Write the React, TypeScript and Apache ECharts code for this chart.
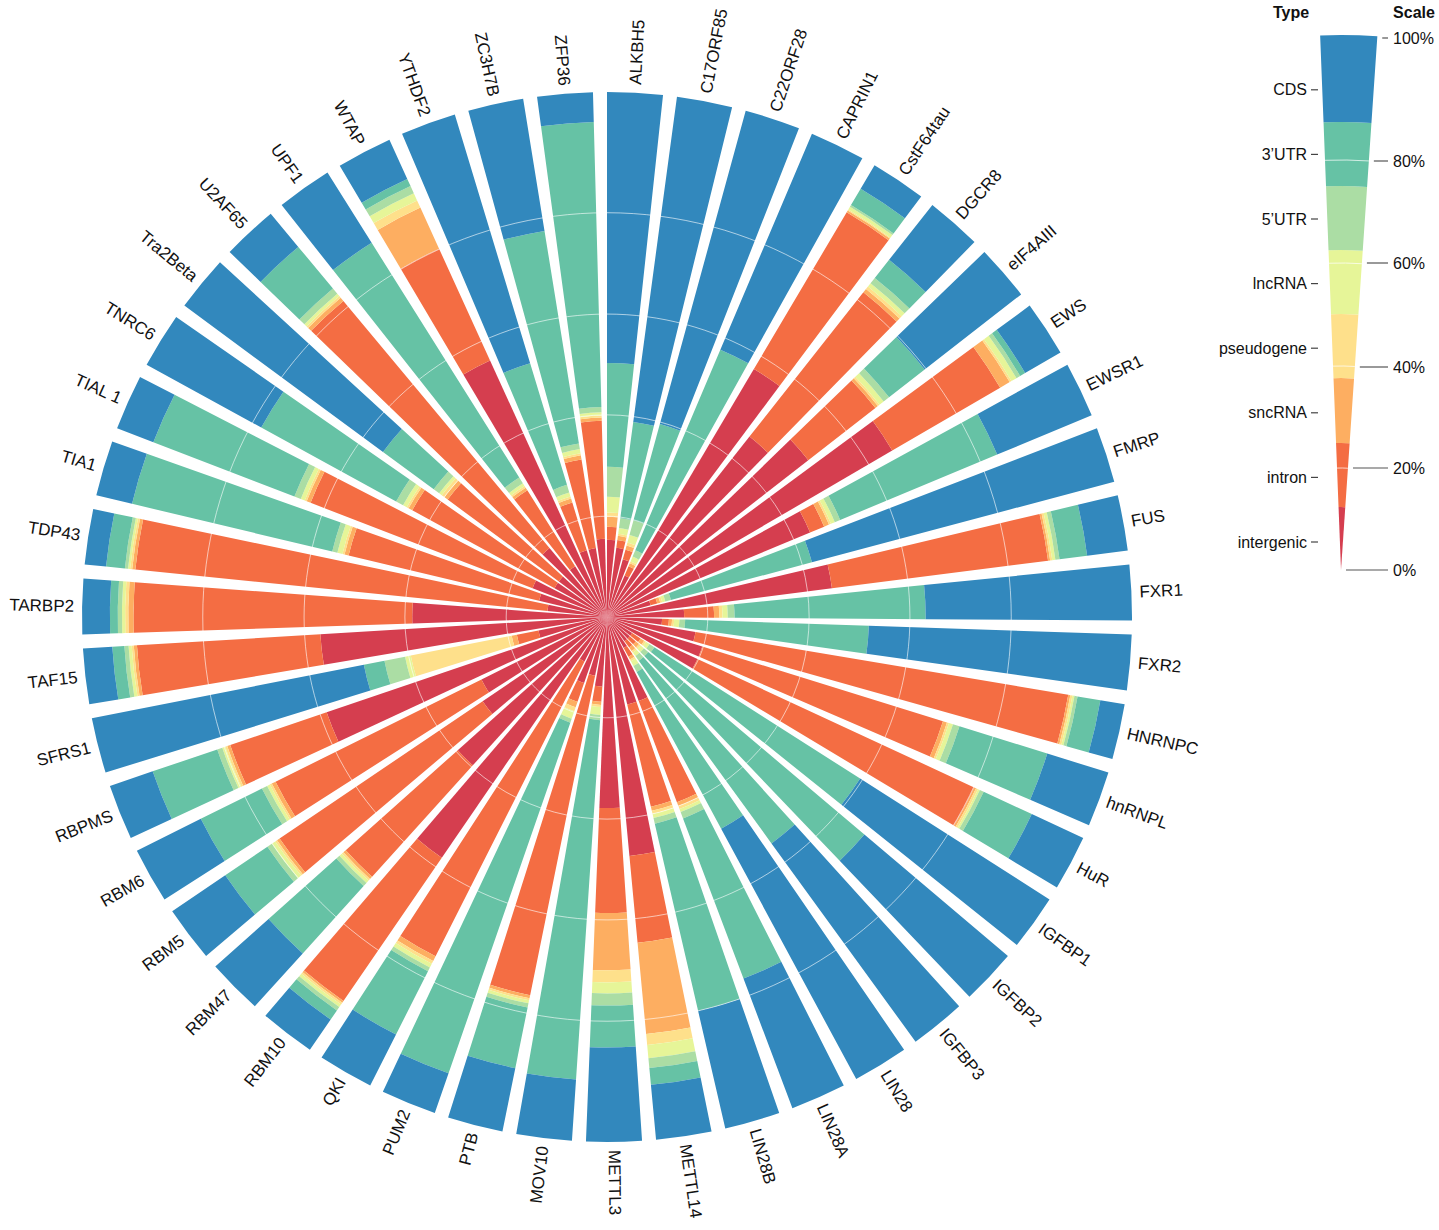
import React, { useEffect, useRef } from 'react';
import * as echarts from 'echarts';

const categories = [
  'ALKBH5', 'C17ORF85', 'C22ORF28', 'CAPRIN1', 'CstF64tau', 'DGCR8', 'eIF4AIII', 'EWS', 'EWSR1', 'FMRP',
  'FUS', 'FXR1', 'FXR2', 'HNRNPC', 'hnRNPL', 'HuR', 'IGFBP1', 'IGFBP2', 'IGFBP3', 'LIN28',
  'LIN28A', 'LIN28B', 'METTL14', 'METTL3', 'MOV10', 'PTB', 'PUM2', 'QKI', 'RBM10', 'RBM47',
  'RBM5', 'RBM6', 'RBPMS', 'SFRS1', 'TAF15', 'TARBP2', 'TDP43', 'TIA1', 'TIAL 1', 'TNRC6',
  'Tra2Beta', 'U2AF65', 'UPF1', 'WTAP', 'YTHDF2', 'ZC3H7B', 'ZFP36',
];

const typeNames = ['intergenic', 'intron', 'sncRNA', 'pseudogene', 'lncRNA', '5\u2019UTR', '3\u2019UTR', 'CDS'];
const typeColors = ['#d53e4f', '#f46d43', '#fdae61', '#fee08b', '#e6f598', '#abdda4', '#66c2a5', '#3288bd'];

// percentages per category (same order as categories)
const intergenic = [14.7, 13.3, 11.4, 8.6, 54.9, 43.8, 48.6, 62.9, 41.9, 8.6, 43.2, 14.7, 10.5, 17.1, 19.0, 19.0, 5.7, 5.7, 5.7, 6.7, 17.1, 17.1, 45.7, 36.4, 13.3, 11.4, 13.3, 9.5, 55.6, 38.1, 28.6, 26.7, 56.4, 13.3, 54.7, 37.1, 11.4, 13.3, 15.2, 11.4, 11.4, 17.1, 11.4, 53.7, 13.3, 13.3, 14.9];
const intron = [2.5, 1.5, 1.9, 1.9, 34.7, 35.0, 16.2, 23.8, 2.9, 1.3, 41.5, 5.7, 1.3, 72.0, 48.0, 58.1, 1.9, 1.5, 1.5, 1.9, 20.6, 20.0, 16.6, 20.0, 2.9, 62.1, 3.8, 62.9, 33.1, 28.6, 46.7, 43.8, 19.4, 4.2, 35.0, 53.1, 78.9, 37.3, 45.3, 30.9, 26.3, 61.3, 17.1, 23.4, 9.5, 17.1, 22.5];
const sncRNA = [1.9, 0.8, 0.8, 0.6, 0.4, 0.8, 0.6, 2.1, 1.0, 0.6, 0.4, 1.0, 0.6, 0.4, 0.8, 0.4, 0.8, 0.8, 0.8, 0.6, 0.8, 0.8, 17.5, 10.9, 0.6, 0.6, 1.1, 1.0, 0.4, 0.6, 0.6, 0.8, 0.6, 1.0, 0.6, 1.0, 0.6, 0.8, 0.8, 0.8, 0.8, 0.8, 0.6, 8.6, 0.8, 0.8, 0.6];
const pseudogene = [0.8, 0.4, 0.6, 0.4, 0.2, 0.6, 0.4, 0.4, 0.4, 0.4, 0.4, 0.6, 0.4, 0.4, 0.4, 0.4, 0.4, 0.4, 0.4, 0.4, 0.6, 0.6, 2.1, 2.3, 0.4, 0.4, 0.8, 0.6, 0.4, 0.4, 0.4, 0.4, 0.4, 19.6, 0.4, 0.6, 0.4, 0.4, 0.4, 0.4, 0.6, 0.4, 0.4, 1.5, 0.4, 0.4, 0.4];
const lncRNA = [3.0, 1.1, 1.5, 1.0, 0.6, 0.8, 1.0, 1.1, 0.8, 0.6, 0.6, 1.0, 1.0, 0.4, 0.8, 0.4, 0.8, 0.8, 0.8, 1.0, 0.6, 0.8, 2.5, 2.1, 1.5, 0.6, 1.5, 0.8, 0.6, 0.6, 0.8, 0.6, 0.6, 1.1, 0.6, 0.6, 0.4, 1.0, 0.8, 0.8, 0.6, 0.6, 0.6, 1.5, 0.8, 0.8, 0.6];
const utr5 = [5.7, 1.9, 2.9, 1.3, 0.4, 1.3, 1.3, 0.8, 1.1, 1.1, 0.8, 1.3, 1.1, 0.6, 1.3, 0.8, 1.1, 1.1, 1.1, 1.3, 1.3, 1.1, 1.9, 2.3, 1.0, 0.8, 0.8, 0.8, 0.8, 0.8, 1.0, 1.1, 1.0, 4.0, 0.8, 0.8, 0.6, 1.0, 1.3, 1.5, 1.3, 1.3, 1.3, 1.5, 1.5, 1.1, 1.0];
const utr3 = [19.8, 18.5, 19.0, 41.5, 3.6, 4.4, 8.6, 1.1, 32.4, 27.8, 5.3, 36.4, 35.0, 4.4, 17.5, 10.1, 46.5, 53.9, 43.0, 33.9, 32.6, 36.6, 3.2, 8.0, 68.6, 11.8, 70.7, 13.5, 2.1, 17.3, 9.7, 13.0, 13.0, 4.0, 2.3, 1.5, 3.6, 39.2, 28.8, 29.3, 12.0, 10.3, 52.8, 1.5, 24.2, 41.0, 54.3];
const cds = [51.6, 62.5, 61.9, 44.8, 5.3, 13.3, 23.4, 7.8, 19.6, 59.6, 7.8, 39.4, 50.1, 4.8, 12.2, 10.9, 42.9, 35.8, 46.7, 54.3, 26.5, 23.0, 10.5, 18.1, 11.8, 12.4, 8.0, 11.0, 7.0, 13.7, 12.4, 13.7, 8.8, 52.8, 5.7, 5.3, 4.2, 7.0, 7.4, 25.0, 47.0, 8.2, 15.8, 8.2, 49.5, 25.5, 5.9];

// radial grid rings (value units of the radius axis)
const gridValues = [19.2, 38.5, 57.7, 77.0];
const scaleLabels = ['0%', '20%', '40%', '60%', '80%', '100%'];

const FONT = '"Liberation Sans", Arial, Helvetica, sans-serif';

export default function App() {
  const ref = useRef<HTMLDivElement>(null);

  useEffect(() => {
    document.body.style.margin = '0';
    const chart = echarts.init(ref.current as HTMLDivElement, null, { renderer: 'svg' });
    const seriesData = [intergenic, intron, sncRNA, pseudogene, lncRNA, utr5, utr3, cds];
    const n = categories.length;
    const band = 360 / n;

    const barSeries: any[] = typeNames.map((name, k) => ({
      name,
      type: 'bar',
      coordinateSystem: 'polar',
      stack: 'total',
      data: seriesData[k],
      barCategoryGap: '20%',
      itemStyle: { color: typeColors[k] },
      silent: true,
      z: 2,
    }));

    const gridSeries = {
      type: 'custom',
      coordinateSystem: 'polar',
      silent: true,
      z: 5,
      encode: { radius: 0, angle: 1 },
      data: gridValues.map((v) => [v, 0]),
      renderItem: (params: any, api: any) => {
        const cs = params.coordSys;
        const p = api.coord([api.value(0), 0]);
        const r = Math.hypot(p[0] - cs.cx, p[1] - cs.cy);
        return {
          type: 'circle',
          shape: { cx: cs.cx, cy: cs.cy, r },
          style: { fill: 'none', stroke: 'rgba(255,255,255,0.6)', lineWidth: 1 },
        };
      },
    };

    const labelSeries = {
      type: 'custom',
      coordinateSystem: 'polar',
      silent: true,
      z: 6,
      encode: { radius: 0, angle: 1 },
      data: categories.map((_, i) => [100, i]),
      renderItem: (params: any, api: any) => {
        const cs = params.coordSys;
        const idx = api.value(1);
        const p = api.coord([api.value(0), idx]);
        const dx = p[0] - cs.cx;
        const dy = p[1] - cs.cy;
        const rr = Math.hypot(dx, dy);
        let phi = Math.atan2(dx, -dy);
        if (phi < 0) phi += Math.PI * 2;
        const right = phi < Math.PI - 1e-6;
        const off = 8;
        const x = cs.cx + (dx / rr) * (rr + off);
        const y = cs.cy + (dy / rr) * (rr + off);
        const rotation = right ? Math.PI / 2 - phi : (3 * Math.PI) / 2 - phi;
        return {
          type: 'text',
          x,
          y,
          rotation,
          style: {
            text: categories[idx],
            font: `17px ${FONT}`,
            fill: '#111',
            align: right ? 'left' : 'right',
            verticalAlign: 'middle',
            textAlign: right ? 'left' : 'right',
            textVerticalAlign: 'middle',
          },
        };
      },
    };

    // ---- legend (Type / Scale wedge) ----
    const LCX = 1341;
    const LCY = 570;
    const A0 = -Math.PI / 2 - 0.039;
    const A1 = A0 + 0.107;
    const bandRadii = [0, 63, 127, 192, 256, 320, 384, 448, 535];
    const legendGridRadii = [102, 204, 307, 410];
    const scaleY = [570, 468, 367, 263, 161, 38];
    const graphics: any[] = [];
    graphics.push({
      type: 'text', x: 1291, y: 12, z: 10,
      style: { text: 'Type', font: `bold 16px ${FONT}`, fill: '#111', align: 'center', verticalAlign: 'middle', textAlign: 'center', textVerticalAlign: 'middle' },
    });
    graphics.push({
      type: 'text', x: 1414, y: 12, z: 10,
      style: { text: 'Scale', font: `bold 16px ${FONT}`, fill: '#111', align: 'center', verticalAlign: 'middle', textAlign: 'center', textVerticalAlign: 'middle' },
    });
    typeNames.forEach((name, k) => {
      graphics.push({
        type: 'sector', z: 10,
        shape: { cx: LCX, cy: LCY, r0: bandRadii[k], r: bandRadii[k + 1], startAngle: A0, endAngle: A1, clockwise: true },
        style: { fill: typeColors[k] },
      });
      const ly = 542 - k * 64.6;
      graphics.push({
        type: 'text', x: 1307, y: ly, z: 10,
        style: { text: name, font: `16px ${FONT}`, fill: '#111', align: 'right', verticalAlign: 'middle', textAlign: 'right', textVerticalAlign: 'middle' },
      });
      graphics.push({
        type: 'line', z: 10,
        shape: { x1: 1311, y1: ly, x2: 1318, y2: ly },
        style: { stroke: '#444', lineWidth: 1.2 },
      });
    });
    legendGridRadii.forEach((r) => {
      graphics.push({
        type: 'arc', z: 11,
        shape: { cx: LCX, cy: LCY, r, startAngle: A0, endAngle: A1, clockwise: true },
        style: { stroke: 'rgba(255,255,255,0.7)', lineWidth: 1, fill: 'none' },
      });
    });
    scaleLabels.forEach((lab, k) => {
      const y = scaleY[k];
      const edge = LCX + (LCY - y) * Math.tan(A1 + Math.PI / 2) + 5;
      graphics.push({
        type: 'line', z: 10,
        shape: { x1: edge, y1: y, x2: 1388, y2: y },
        style: { stroke: '#555', lineWidth: 1.2 },
      });
      graphics.push({
        type: 'text', x: 1393, y, z: 10,
        style: { text: lab, font: `16px ${FONT}`, fill: '#111', align: 'left', verticalAlign: 'middle', textAlign: 'left', textVerticalAlign: 'middle' },
      });
    });

    chart.setOption({
      animation: false,
      backgroundColor: '#ffffff',
      polar: { center: [607, 617], radius: [0, 525] },
      angleAxis: {
        type: 'category',
        data: categories,
        startAngle: 90 + band * 0.1,
        clockwise: true,
        axisLine: { show: false },
        axisTick: { show: false },
        axisLabel: { show: false },
        splitLine: { show: false },
        splitArea: { show: false },
      },
      radiusAxis: {
        type: 'value',
        min: 0,
        max: 100,
        axisLine: { show: false },
        axisTick: { show: false },
        axisLabel: { show: false },
        splitLine: { show: false },
      },
      series: [...barSeries, gridSeries, labelSeries],
      graphic: { elements: graphics },
    });

    return () => chart.dispose();
  }, []);

  return <div ref={ref} style={{ width: 1439, height: 1230 }} />;
}
